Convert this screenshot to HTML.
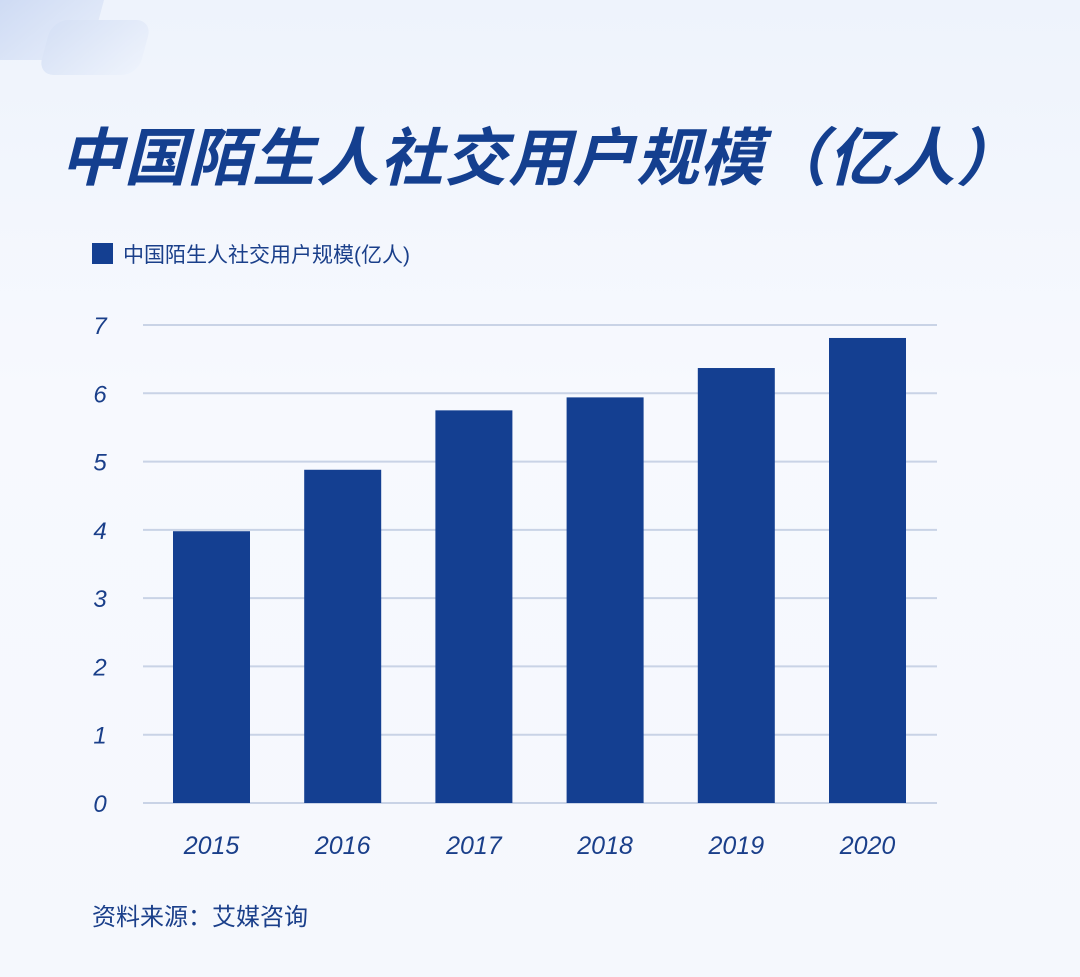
<!DOCTYPE html>
<html><head><meta charset="utf-8">
<style>
body{margin:0;width:1080px;height:977px;overflow:hidden;background:linear-gradient(180deg,#eef3fc 0%,#f7f9fe 40%,#f5f8fd 100%);font-family:"Liberation Sans","Noto Sans CJK SC",sans-serif;position:relative}
.title{position:absolute;left:60px;top:108px;font-size:63px;font-weight:bold;color:#143f8f;font-style:italic;letter-spacing:1px;white-space:nowrap;font-family:"Noto Sans CJK SC","WenQuanYi Zen Hei",sans-serif}
.src{position:absolute;left:92px;top:897px;font-size:24px;color:#1a3f8a}
</style></head><body>
<div style="position:absolute;left:-20px;top:-30px;width:120px;height:90px;background:linear-gradient(135deg,#c8d6f2,#e6edfa);border-radius:20px;transform:skewX(-15deg)"></div>
<div style="position:absolute;left:45px;top:20px;width:100px;height:55px;background:linear-gradient(135deg,#d5e0f5,#eef3fc);border-radius:16px;transform:skewX(-15deg)"></div>
<div class="title">中国陌生人社交用户规模（亿人）</div>
<svg id="chart" width="1080" height="977" style="position:absolute;left:0;top:0"></svg>
<div class="src">资料来源：艾媒咨询</div>
<script>
const categories=["2015","2016","2017","2018","2019","2020"];
const values=[3.98,4.88,5.75,5.94,6.37,6.81];
const yTicks=[0,1,2,3,4,5,6,7];
const ns="http://www.w3.org/2000/svg";
const svg=document.getElementById('chart');
const L=143,R=937,Y0=803,Y7=325;
const y=v=>Y0-(Y0-Y7)*v/7;
const x=i=>211.5+131.2*i;
function mk(t,a){const e=document.createElementNS(ns,t);for(const k in a)e.setAttribute(k,a[k]);svg.appendChild(e);return e;}
yTicks.forEach(t=>{
 const g=mk('line',{x1:L,x2:R,y1:y(t),y2:y(t),stroke:'#c9d3e6','stroke-width':2});
 
 
 const tx=mk('text',{x:100,y:y(t)+9,'text-anchor':'middle','font-size':24,'font-style':'italic',fill:'#1a3f8a','font-family':'Liberation Sans, sans-serif'});
 tx.textContent=t;
 
 
});
categories.forEach((c,i)=>{
 const b=mk('rect',{x:x(i)-38.5,y:y(values[i]),width:77,height:Y0-y(values[i]),fill:'#143f91'});
 
 
 const tx=mk('text',{x:x(i),y:854,'text-anchor':'middle','font-size':25,'font-style':'italic',fill:'#1a3f8a','font-family':'Liberation Sans, sans-serif'});
 tx.textContent=c;
 
 
});
const ls=mk('rect',{x:92,y:243,width:21,height:21,fill:'#143f91'});


const lt=mk('text',{x:123,y:262,'font-size':21,fill:'#1a3f8a','font-family':'Liberation Sans, Noto Sans CJK SC, sans-serif'});
lt.textContent='中国陌生人社交用户规模(亿人)';


</script>
</body></html>
